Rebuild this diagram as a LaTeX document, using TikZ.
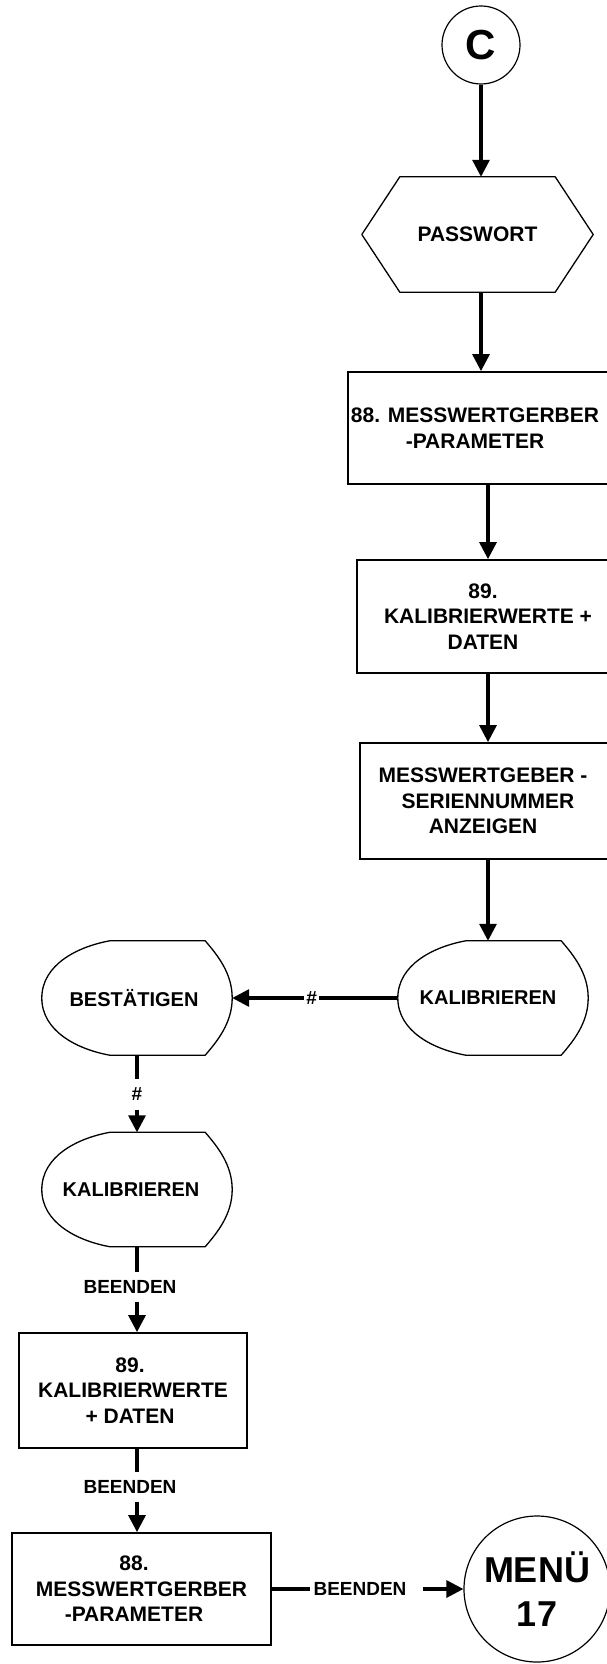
\documentclass[tikz,border=0pt]{standalone}
\usepackage{fontspec}
\setmainfont{Liberation Sans}
\usetikzlibrary{arrows.meta,calc}
% trailing pad that moves a centred line to the left
\newcommand{\rpad}[1]{\hspace*{#1pt}}
\begin{document}
\begin{tikzpicture}[x=1pt,y=-1pt,
  txt/.style={font=\fontsize{21}{25.5}\selectfont\bfseries, align=center, inner sep=0pt},
  box/.style={txt, draw, line width=1.8pt},
  disp/.style={txt, font=\fontsize{20}{24}\selectfont\bfseries, minimum width=190pt, minimum height=114pt},
  outline/.style={line width=1.3pt, line join=round},
  conn/.style={draw, line width=3.2pt, -{Triangle[length=17pt,width=17pt]}},
  plain/.style={draw, line width=3.2pt},
  lbl/.style={font=\fontsize{19}{21}\selectfont\bfseries, inner sep=0pt, minimum height=30pt},
  hashlbl/.style={font=\fontsize{19}{21}\selectfont\bfseries, inner sep=0pt, minimum height=30pt},
  term/.style={circle, draw, line width=1.2pt, inner sep=0pt, align=center}]

\clip (0,0) rectangle (607,1664);

% display-type outline around a named node
\newcommand{\dispoutline}[1]{%
  \draw[outline] ($(#1.north west)+(68,0)$) -- ($(#1.north east)+(-27,0)$)
    .. controls ($(#1.north east)+(-15,14)$) and ($(#1.east)+(0,-25)$) .. (#1.east)
    .. controls ($(#1.east)+(0,25)$) and ($(#1.south east)+(-15,-14)$) .. ($(#1.south east)+(-27,0)$)
    -- ($(#1.south west)+(68,0)$)
    .. controls ($(#1.south west)+(35,-6)$) and ($(#1.west)+(0,33)$) .. (#1.west)
    .. controls ($(#1.west)+(0,-33)$) and ($(#1.north west)+(35,6)$) .. cycle;}

% main column
\node[term, minimum size=78pt, font=\fontsize{42}{42}\selectfont\bfseries] (c) at (481,45) {C};
\node[txt, minimum width=231pt, minimum height=115pt] (pw) at (477.5,234.5) {PASSWORT};
\draw[outline] (pw.west) -- ($(pw.north west)+(38,0)$) -- ($(pw.north east)+(-38,0)$)
  -- (pw.east) -- ($(pw.south east)+(-38,0)$) -- ($(pw.south west)+(38,0)$) -- cycle;

\node[box, minimum width=272pt, minimum height=112pt] (b88) at (484,428)
  {88. MESSWERTGERBER\rpad{18}\\-PARAMETER\rpad{18}};
\node[box, minimum width=262pt, minimum height=113pt] (b89) at (488,616.5)
  {89.\rpad{10}\\KALIBRIERWERTE +\rpad{10}\\DATEN\rpad{10}};
\node[box, minimum width=256pt, minimum height=116pt] (mess) at (488,801)
  {MESSWERTGEBER -\rpad{10}\\SERIENNUMMER\rpad{10}\\ANZEIGEN\rpad{10}};

\node[disp] (kalR) at (493,998) {KALIBRIEREN\rpad{10}};
\dispoutline{kalR}
\node[disp] (best) at (137,998) {BESTÄTIGEN\rpad{6}};
\dispoutline{best}
\node[disp] (kal2) at (137,1189.5) {KALIBRIEREN\rpad{12}};
\dispoutline{kal2}

\node[box, minimum width=228pt, minimum height=115pt] (b89L) at (133,1390.5)
  {89.\rpad{6}\\KALIBRIERWERTE\rpad{6}\\+ DATEN\rpad{6}};
\node[box, minimum width=259pt, minimum height=112pt] (b88L) at (141.5,1589)
  {88.\rpad{15}\\MESSWERTGERBER\rpad{15}\\-PARAMETER\rpad{15}};
\node[term, minimum size=146pt, font=\fontsize{36}{44}\selectfont\bfseries] (menu) at (537,1589) {MENÜ\\17};

% connector labels
\node[hashlbl] (h1) at (137,1094.5) {\#};
\node[lbl] (e1) at (130,1287) {BEENDEN};
\node[lbl] (e2) at (130,1487) {BEENDEN};
\node[lbl, inner xsep=3pt] (e3) at (360,1589) {BEENDEN};

% connectors
\draw[conn] (c.south) -- (c.south |- pw.north);
\draw[conn] (c.south |- pw.south) -- (c.south |- b88.north);
\draw[conn] (b89.north |- b88.south) -- (b89.north);
\draw[conn] (b89.south) -- (mess.north);
\draw[conn] (mess.south) -- (mess.south |- kalR.north);
\draw[conn] (kalR.west) -- node[pos=0.52, fill=white, inner sep=2pt, font=\fontsize{19}{21}\selectfont\bfseries] (h0) {\#} (best.east);

\draw[plain] (best.south) -- (best.south |- h1.north);
\draw[conn] (best.south |- h1.south) -- (kal2.north);
\draw[plain] (kal2.south) -- (kal2.south |- e1.north);
\draw[conn] (kal2.south |- e1.south) -- (kal2.south |- b89L.north);
\draw[plain] (kal2.south |- b89L.south) -- (kal2.south |- e2.north);
\draw[conn] (kal2.south |- e2.south) -- (kal2.south |- b88L.north);
\draw[plain] (b88L.east) -- (e3.west);
\draw[conn] ($(e3.east)+(13,0)$) -- (menu.west);
\end{tikzpicture}
\end{document}
